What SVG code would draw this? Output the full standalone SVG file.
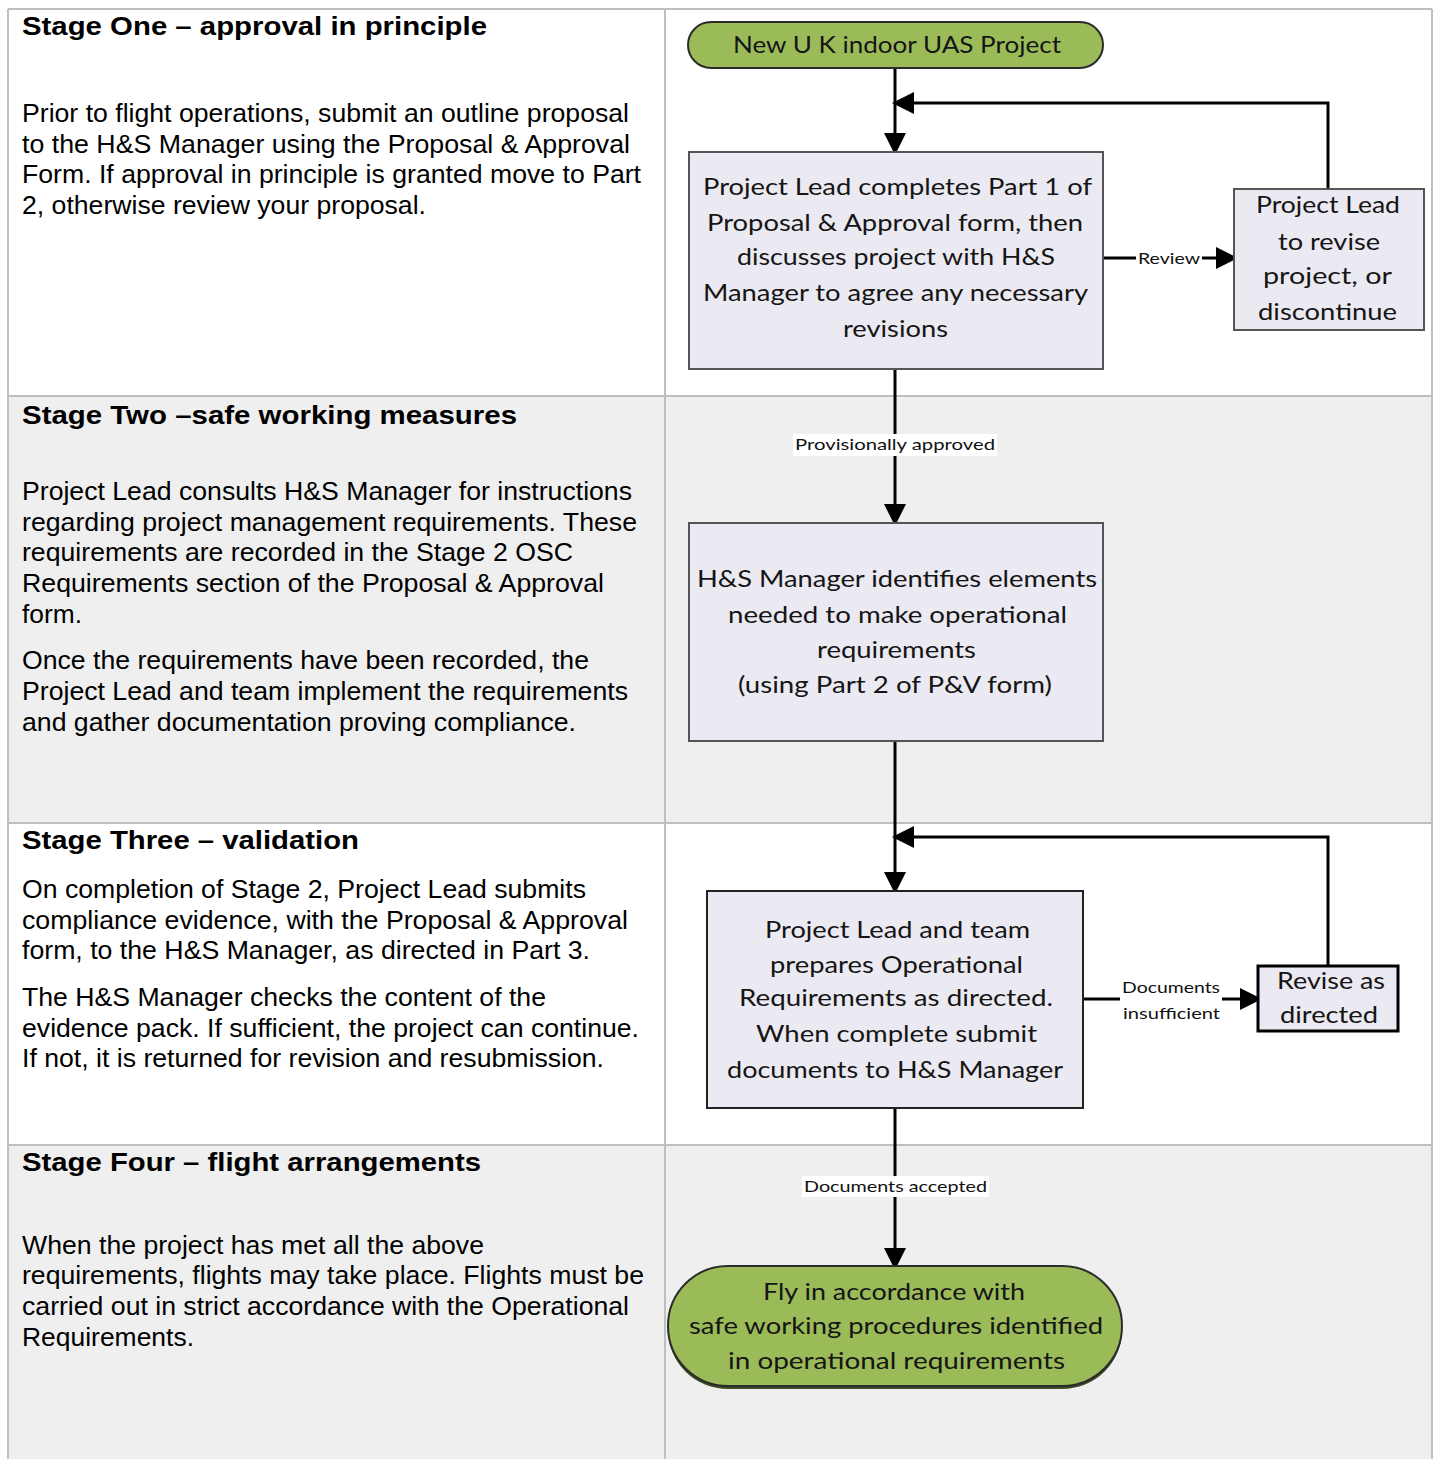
<svg xmlns="http://www.w3.org/2000/svg" width="1437" height="1459" viewBox="0 0 1437 1459">
<style>
.h{font-family:"Liberation Sans",Arial,sans-serif;font-weight:bold;font-size:26px;fill:#000}
.b{font-family:"Liberation Sans",Arial,sans-serif;font-size:25px;fill:#000}
.f{font-family:Lato,"Open Sans",sans-serif;font-size:23px;fill:#151515}
.l{font-family:Lato,"Open Sans",sans-serif;font-size:15px;fill:#111}
.grid{stroke:#bfbfbf;stroke-width:2;fill:none}
.box{fill:#ebe9f1;stroke:#555;stroke-width:2}
.term{fill:#9bbb59;stroke:#2b2b2b;stroke-width:2}
.con{stroke:#000;stroke-width:3;fill:none}
.lbg{fill:#fff}
</style>
<defs>
<marker id="ah" viewBox="0 0 22 22" refX="18" refY="11" markerWidth="22" markerHeight="22" markerUnits="userSpaceOnUse" orient="auto">
<path d="M0,0 L22,11 L0,22 z" fill="#000"/>
</marker>
</defs>
<rect width="1437" height="1459" fill="#fff"/>
<g id="table">
<rect x="8" y="396" width="1424" height="427" fill="#efefef"/>
<rect x="8" y="1145" width="1424" height="314" fill="#efefef"/>
<path class="grid" d="M8,9 H1432 M8,9 V1459 M1432,9 V1459 M665,9 V1459 M8,396 H1432 M8,823 H1432 M8,1145 H1432"/>
</g>
<g id="stage-text">
<text class="h" x="22" y="35" textLength="465" lengthAdjust="spacingAndGlyphs">Stage One – approval in principle</text>
<text class="b" x="22" y="122" textLength="607" lengthAdjust="spacingAndGlyphs">Prior to flight operations, submit an outline proposal</text>
<text class="b" x="22" y="153" textLength="608" lengthAdjust="spacingAndGlyphs">to the H&amp;S Manager using the Proposal &amp; Approval</text>
<text class="b" x="22" y="183" textLength="619" lengthAdjust="spacingAndGlyphs">Form. If approval in principle is granted move to Part</text>
<text class="b" x="22" y="214" textLength="404" lengthAdjust="spacingAndGlyphs">2, otherwise review your proposal.</text>

<text class="h" x="22" y="424" textLength="495" lengthAdjust="spacingAndGlyphs">Stage Two –safe working measures</text>
<text class="b" x="22" y="500" textLength="610" lengthAdjust="spacingAndGlyphs">Project Lead consults H&amp;S Manager for instructions</text>
<text class="b" x="22" y="531" textLength="615" lengthAdjust="spacingAndGlyphs">regarding project management requirements. These</text>
<text class="b" x="22" y="561" textLength="551" lengthAdjust="spacingAndGlyphs">requirements are recorded in the Stage 2 OSC</text>
<text class="b" x="22" y="592" textLength="582" lengthAdjust="spacingAndGlyphs">Requirements section of the Proposal &amp; Approval</text>
<text class="b" x="22" y="623" textLength="60" lengthAdjust="spacingAndGlyphs">form.</text>
<text class="b" x="22" y="669" textLength="567" lengthAdjust="spacingAndGlyphs">Once the requirements have been recorded, the</text>
<text class="b" x="22" y="700" textLength="606" lengthAdjust="spacingAndGlyphs">Project Lead and team implement the requirements</text>
<text class="b" x="22" y="731" textLength="554" lengthAdjust="spacingAndGlyphs">and gather documentation proving compliance.</text>

<text class="h" x="22" y="849" textLength="337" lengthAdjust="spacingAndGlyphs">Stage Three – validation</text>
<text class="b" x="22" y="898" textLength="564" lengthAdjust="spacingAndGlyphs">On completion of Stage 2, Project Lead submits</text>
<text class="b" x="22" y="929" textLength="606" lengthAdjust="spacingAndGlyphs">compliance evidence, with the Proposal &amp; Approval</text>
<text class="b" x="22" y="959" textLength="568" lengthAdjust="spacingAndGlyphs">form, to the H&amp;S Manager, as directed in Part 3.</text>
<text class="b" x="22" y="1006" textLength="524" lengthAdjust="spacingAndGlyphs">The H&amp;S Manager checks the content of the</text>
<text class="b" x="22" y="1037" textLength="617" lengthAdjust="spacingAndGlyphs">evidence pack. If sufficient, the project can continue.</text>
<text class="b" x="22" y="1067" textLength="582" lengthAdjust="spacingAndGlyphs">If not, it is returned for revision and resubmission.</text>

<text class="h" x="22" y="1171" textLength="459" lengthAdjust="spacingAndGlyphs">Stage Four – flight arrangements</text>
<text class="b" x="22" y="1254" textLength="462" lengthAdjust="spacingAndGlyphs">When the project has met all the above</text>
<text class="b" x="22" y="1284" textLength="622" lengthAdjust="spacingAndGlyphs">requirements, flights may take place. Flights must be</text>
<text class="b" x="22" y="1315" textLength="607" lengthAdjust="spacingAndGlyphs">carried out in strict accordance with the Operational</text>
<text class="b" x="22" y="1346" textLength="172" lengthAdjust="spacingAndGlyphs">Requirements.</text>
</g>
<g id="connectors">
<path class="con" d="M895,68 V151" marker-end="url(#ah)"/>
<path class="con" d="M1328,189 V103 H896" marker-end="url(#ah)"/>
<path class="con" d="M1103,258 H1234" marker-end="url(#ah)"/>
<path class="con" d="M895,369 V522" marker-end="url(#ah)"/>
<path class="con" d="M895,741 V890" marker-end="url(#ah)"/>
<path class="con" d="M1083,999 H1258" marker-end="url(#ah)"/>
<path class="con" d="M1328,966 V837 H896" marker-end="url(#ah)"/>
<path class="con" d="M895,1108 V1266" marker-end="url(#ah)"/>
<rect class="lbg" x="1136" y="250" width="66" height="17"/>
<text class="l" x="1138" y="264" textLength="62" lengthAdjust="spacingAndGlyphs">Review</text>
<rect class="lbg" x="793" y="434" width="204" height="22"/>
<text class="l" x="795" y="450" textLength="200" lengthAdjust="spacingAndGlyphs">Provisionally approved</text>
<rect class="lbg" x="1120" y="977" width="102" height="47"/>
<text class="l" x="1122" y="993" textLength="98" lengthAdjust="spacingAndGlyphs">Documents</text>
<text class="l" x="1123" y="1019" textLength="97" lengthAdjust="spacingAndGlyphs">insufficient</text>
<rect class="lbg" x="802" y="1176" width="187" height="21"/>
<text class="l" x="804" y="1192" textLength="183" lengthAdjust="spacingAndGlyphs">Documents accepted</text>
</g>
<g id="start">
<rect class="term" x="688" y="22" width="415" height="46" rx="23" ry="23"/>
<text class="f" x="733" y="53" textLength="328" lengthAdjust="spacingAndGlyphs">New U K indoor UAS Project</text>
</g>
<g id="part1">
<rect class="box" x="689" y="152" width="414" height="217"/>
<text class="f" x="703" y="195" textLength="389" lengthAdjust="spacingAndGlyphs">Project Lead completes Part 1 of</text>
<text class="f" x="707" y="231" textLength="376" lengthAdjust="spacingAndGlyphs">Proposal &amp; Approval form, then</text>
<text class="f" x="737" y="265" textLength="318" lengthAdjust="spacingAndGlyphs">discusses project with H&amp;S</text>
<text class="f" x="703" y="301" textLength="385" lengthAdjust="spacingAndGlyphs">Manager to agree any necessary</text>
<text class="f" x="843" y="337" textLength="105" lengthAdjust="spacingAndGlyphs">revisions</text>
</g>
<g id="revise-project">
<rect class="box" x="1234" y="189" width="190" height="141"/>
<text class="f" x="1256" y="213" textLength="144" lengthAdjust="spacingAndGlyphs">Project Lead</text>
<text class="f" x="1278" y="250" textLength="102" lengthAdjust="spacingAndGlyphs">to revise</text>
<text class="f" x="1263" y="284" textLength="129" lengthAdjust="spacingAndGlyphs">project, or</text>
<text class="f" x="1258" y="320" textLength="139" lengthAdjust="spacingAndGlyphs">discontinue</text>
</g>
<g id="part2">
<rect class="box" x="689" y="523" width="414" height="218"/>
<text class="f" x="697" y="587" textLength="400" lengthAdjust="spacingAndGlyphs">H&amp;S Manager identifies elements</text>
<text class="f" x="728" y="623" textLength="339" lengthAdjust="spacingAndGlyphs">needed to make operational</text>
<text class="f" x="817" y="658" textLength="159" lengthAdjust="spacingAndGlyphs">requirements</text>
<text class="f" x="738" y="693" textLength="314" lengthAdjust="spacingAndGlyphs">(using Part 2 of P&amp;V form)</text>
</g>
<g id="part3">
<rect class="box" x="707" y="891" width="376" height="217" style="stroke:#222"/>
<text class="f" x="765" y="938" textLength="265" lengthAdjust="spacingAndGlyphs">Project Lead and team</text>
<text class="f" x="770" y="973" textLength="253" lengthAdjust="spacingAndGlyphs">prepares Operational</text>
<text class="f" x="739" y="1006" textLength="314" lengthAdjust="spacingAndGlyphs">Requirements as directed.</text>
<text class="f" x="756" y="1042" textLength="281" lengthAdjust="spacingAndGlyphs">When complete submit</text>
<text class="f" x="727" y="1078" textLength="336" lengthAdjust="spacingAndGlyphs">documents to H&amp;S Manager</text>
</g>
<g id="revise-directed">
<rect class="box" x="1258" y="966" width="140" height="65" style="stroke:#000;stroke-width:3"/>
<text class="f" x="1277" y="989" textLength="108" lengthAdjust="spacingAndGlyphs">Revise as</text>
<text class="f" x="1280" y="1023" textLength="98" lengthAdjust="spacingAndGlyphs">directed</text>
</g>
<g id="fly">
<rect x="668" y="1270" width="454" height="119" rx="60" ry="59" fill="#3f4a26"/>
<rect class="term" x="668" y="1266" width="454" height="120" rx="60" ry="60"/>
<text class="f" x="763" y="1300" textLength="262" lengthAdjust="spacingAndGlyphs">Fly in accordance with</text>
<text class="f" x="689" y="1334" textLength="414" lengthAdjust="spacingAndGlyphs">safe working procedures identified</text>
<text class="f" x="728" y="1369" textLength="337" lengthAdjust="spacingAndGlyphs">in operational requirements</text>
</g>
</svg>
